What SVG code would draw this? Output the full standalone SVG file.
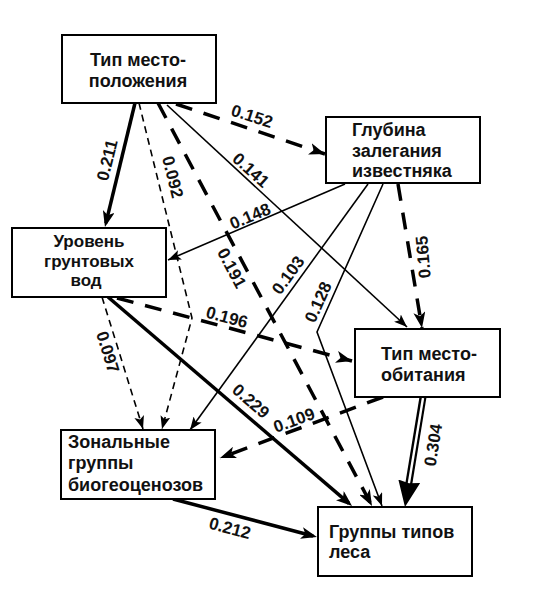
<svg xmlns="http://www.w3.org/2000/svg" width="534" height="600" viewBox="0 0 534 600">
<style>
.box{fill:#fff;stroke:#000;stroke-width:2}
.nt{font-family:"Liberation Sans",Arial,sans-serif;font-weight:bold;font-size:18px;fill:#111}
.c{text-anchor:middle}
.lb{font-family:"Liberation Sans",Arial,sans-serif;font-weight:bold;font-size:17px;fill:#111;text-anchor:middle}
.e{fill:none;stroke:#000}
.tn{stroke-width:1.6}
.tnd{stroke-width:1.6;stroke-dasharray:7 5}
.tk{stroke-width:3.5}
.tkd{stroke-width:3.5;stroke-dasharray:17 12}
</style>
<defs>
<marker id="aThin" markerUnits="userSpaceOnUse" markerWidth="14" markerHeight="10" refX="13" refY="5" orient="auto"><path d="M0,0 L13,5 L0,10 L3,5 z" fill="#000"/></marker>
<marker id="aThick" markerUnits="userSpaceOnUse" markerWidth="17" markerHeight="12" refX="12" refY="6" orient="auto"><path d="M0,0 L16,6 L0,12 L4,6 z" fill="#000"/></marker>
<marker id="aDash" markerUnits="userSpaceOnUse" markerWidth="17" markerHeight="12" refX="16" refY="6" orient="auto"><path d="M0,0 L16,6 L0,12 L4,6 z" fill="#000"/></marker>
<marker id="aBig" markerUnits="userSpaceOnUse" markerWidth="27" markerHeight="22" refX="16" refY="11" orient="auto"><path d="M0,0 L26,11 L0,22 L2,11 z" fill="#000"/></marker>
</defs>

<g id="connectors">
<path class="e tk" d="M135,103 L105.9,223.1" marker-end="url(#aThick)"/>
<path class="e tnd" d="M139,103 L192,318 L162,429" marker-end="url(#aThin)"/>
<path class="e tkd" d="M176,104 L325,154" marker-end="url(#aDash)"/>
<path class="e tkd" d="M158,103 L372,506" marker-end="url(#aDash)"/>
<path class="e tn" d="M167,105 L407,327" marker-end="url(#aThin)"/>
<path class="e tn" d="M345,184 L168,260" marker-end="url(#aThin)"/>
<path class="e tn" d="M368,184 L190,430" marker-end="url(#aThin)"/>
<path class="e tn" d="M383,184 L317,332 L382,506" marker-end="url(#aThin)"/>
<path class="e tkd" d="M398,184 L422,328" marker-end="url(#aDash)"/>
<path class="e tk" d="M108,297 L349,503.4" marker-end="url(#aThick)"/>
<path class="e tkd" d="M117,298 L352,361" marker-end="url(#aDash)"/>
<path class="e tkd" d="M383,397 L220,458" marker-end="url(#aDash)"/>
<path class="e tnd" d="M102,297 L143,429" marker-end="url(#aThin)"/>
<path class="e tk" d="M173,499 L313.1,536" marker-end="url(#aThick)"/>
<path class="e" stroke-width="7" d="M423,397 L406.6,497.1"/>
<path class="e" style="stroke:#fff" stroke-width="2.4" d="M423,398 L406.6,497.1" marker-end="url(#aBig)"/>

<text class="lb" transform="translate(107,160) rotate(-76)" y="6">0.211</text>
<text class="lb" transform="translate(173,177) rotate(76)" y="6">0.092</text>
<text class="lb" transform="translate(252,116) rotate(18)" y="6">0.152</text>
<text class="lb" transform="translate(251,170) rotate(42)" y="6">0.141</text>
<text class="lb" transform="translate(250,216) rotate(-23)" y="6">0.148</text>
<text class="lb" transform="translate(232,268) rotate(62)" y="6">0.191</text>
<text class="lb" transform="translate(288,275) rotate(-54)" y="6">0.103</text>
<text class="lb" transform="translate(318,302) rotate(-66)" y="6">0.128</text>
<text class="lb" transform="translate(423,257) rotate(-95)" y="6">0.165</text>
<text class="lb" transform="translate(227,317) rotate(15)" y="6">0.196</text>
<text class="lb" transform="translate(108,352) rotate(73)" y="6">0.097</text>
<text class="lb" transform="translate(251,401) rotate(41)" y="6">0.229</text>
<text class="lb" transform="translate(294,420) rotate(-20)" y="6">0.109</text>
<text class="lb" transform="translate(433,445) rotate(-81)" y="6">0.304</text>
<text class="lb" transform="translate(230,528) rotate(15)" y="6">0.212</text>
</g>

<g id="node-tip-mestopolozheniya">
<rect class="box" x="62" y="35" width="154" height="68"/>
<text class="nt c" x="138" y="66">Тип место-</text>
<text class="nt c" x="138" y="87">положения</text>
</g>
<g id="node-glubina">
<rect class="box" x="326" y="117" width="154" height="66"/>
<text class="nt" x="352" y="136">Глубина</text>
<text class="nt" x="352" y="157">залегания</text>
<text class="nt" x="352" y="177">известняка</text>
</g>
<g id="node-uroven">
<rect class="box" x="12" y="228" width="154" height="69"/>
<text class="nt c" style="font-size:17px" x="89" y="247">Уровень</text>
<text class="nt c" style="font-size:17px" x="89" y="266.5">грунтовых</text>
<text class="nt c" style="font-size:17px" x="86" y="286">вод</text>
</g>
<g id="node-tip-mestoobitaniya">
<rect class="box" x="355" y="329" width="145" height="68"/>
<text class="nt" x="381" y="360">Тип место-</text>
<text class="nt" x="381" y="381">обитания</text>
</g>
<g id="node-zonalnye">
<rect class="box" x="61" y="430" width="154" height="69"/>
<text class="nt" x="68" y="448">Зональные</text>
<text class="nt" x="68" y="469">группы</text>
<text class="nt" x="68" y="491">биогеоценозов</text>
</g>
<g id="node-gruppy-lesa">
<rect class="box" x="318" y="507" width="154" height="69"/>
<text class="nt" x="329" y="538">Группы типов</text>
<text class="nt" x="329" y="558">леса</text>
</g>
</svg>
